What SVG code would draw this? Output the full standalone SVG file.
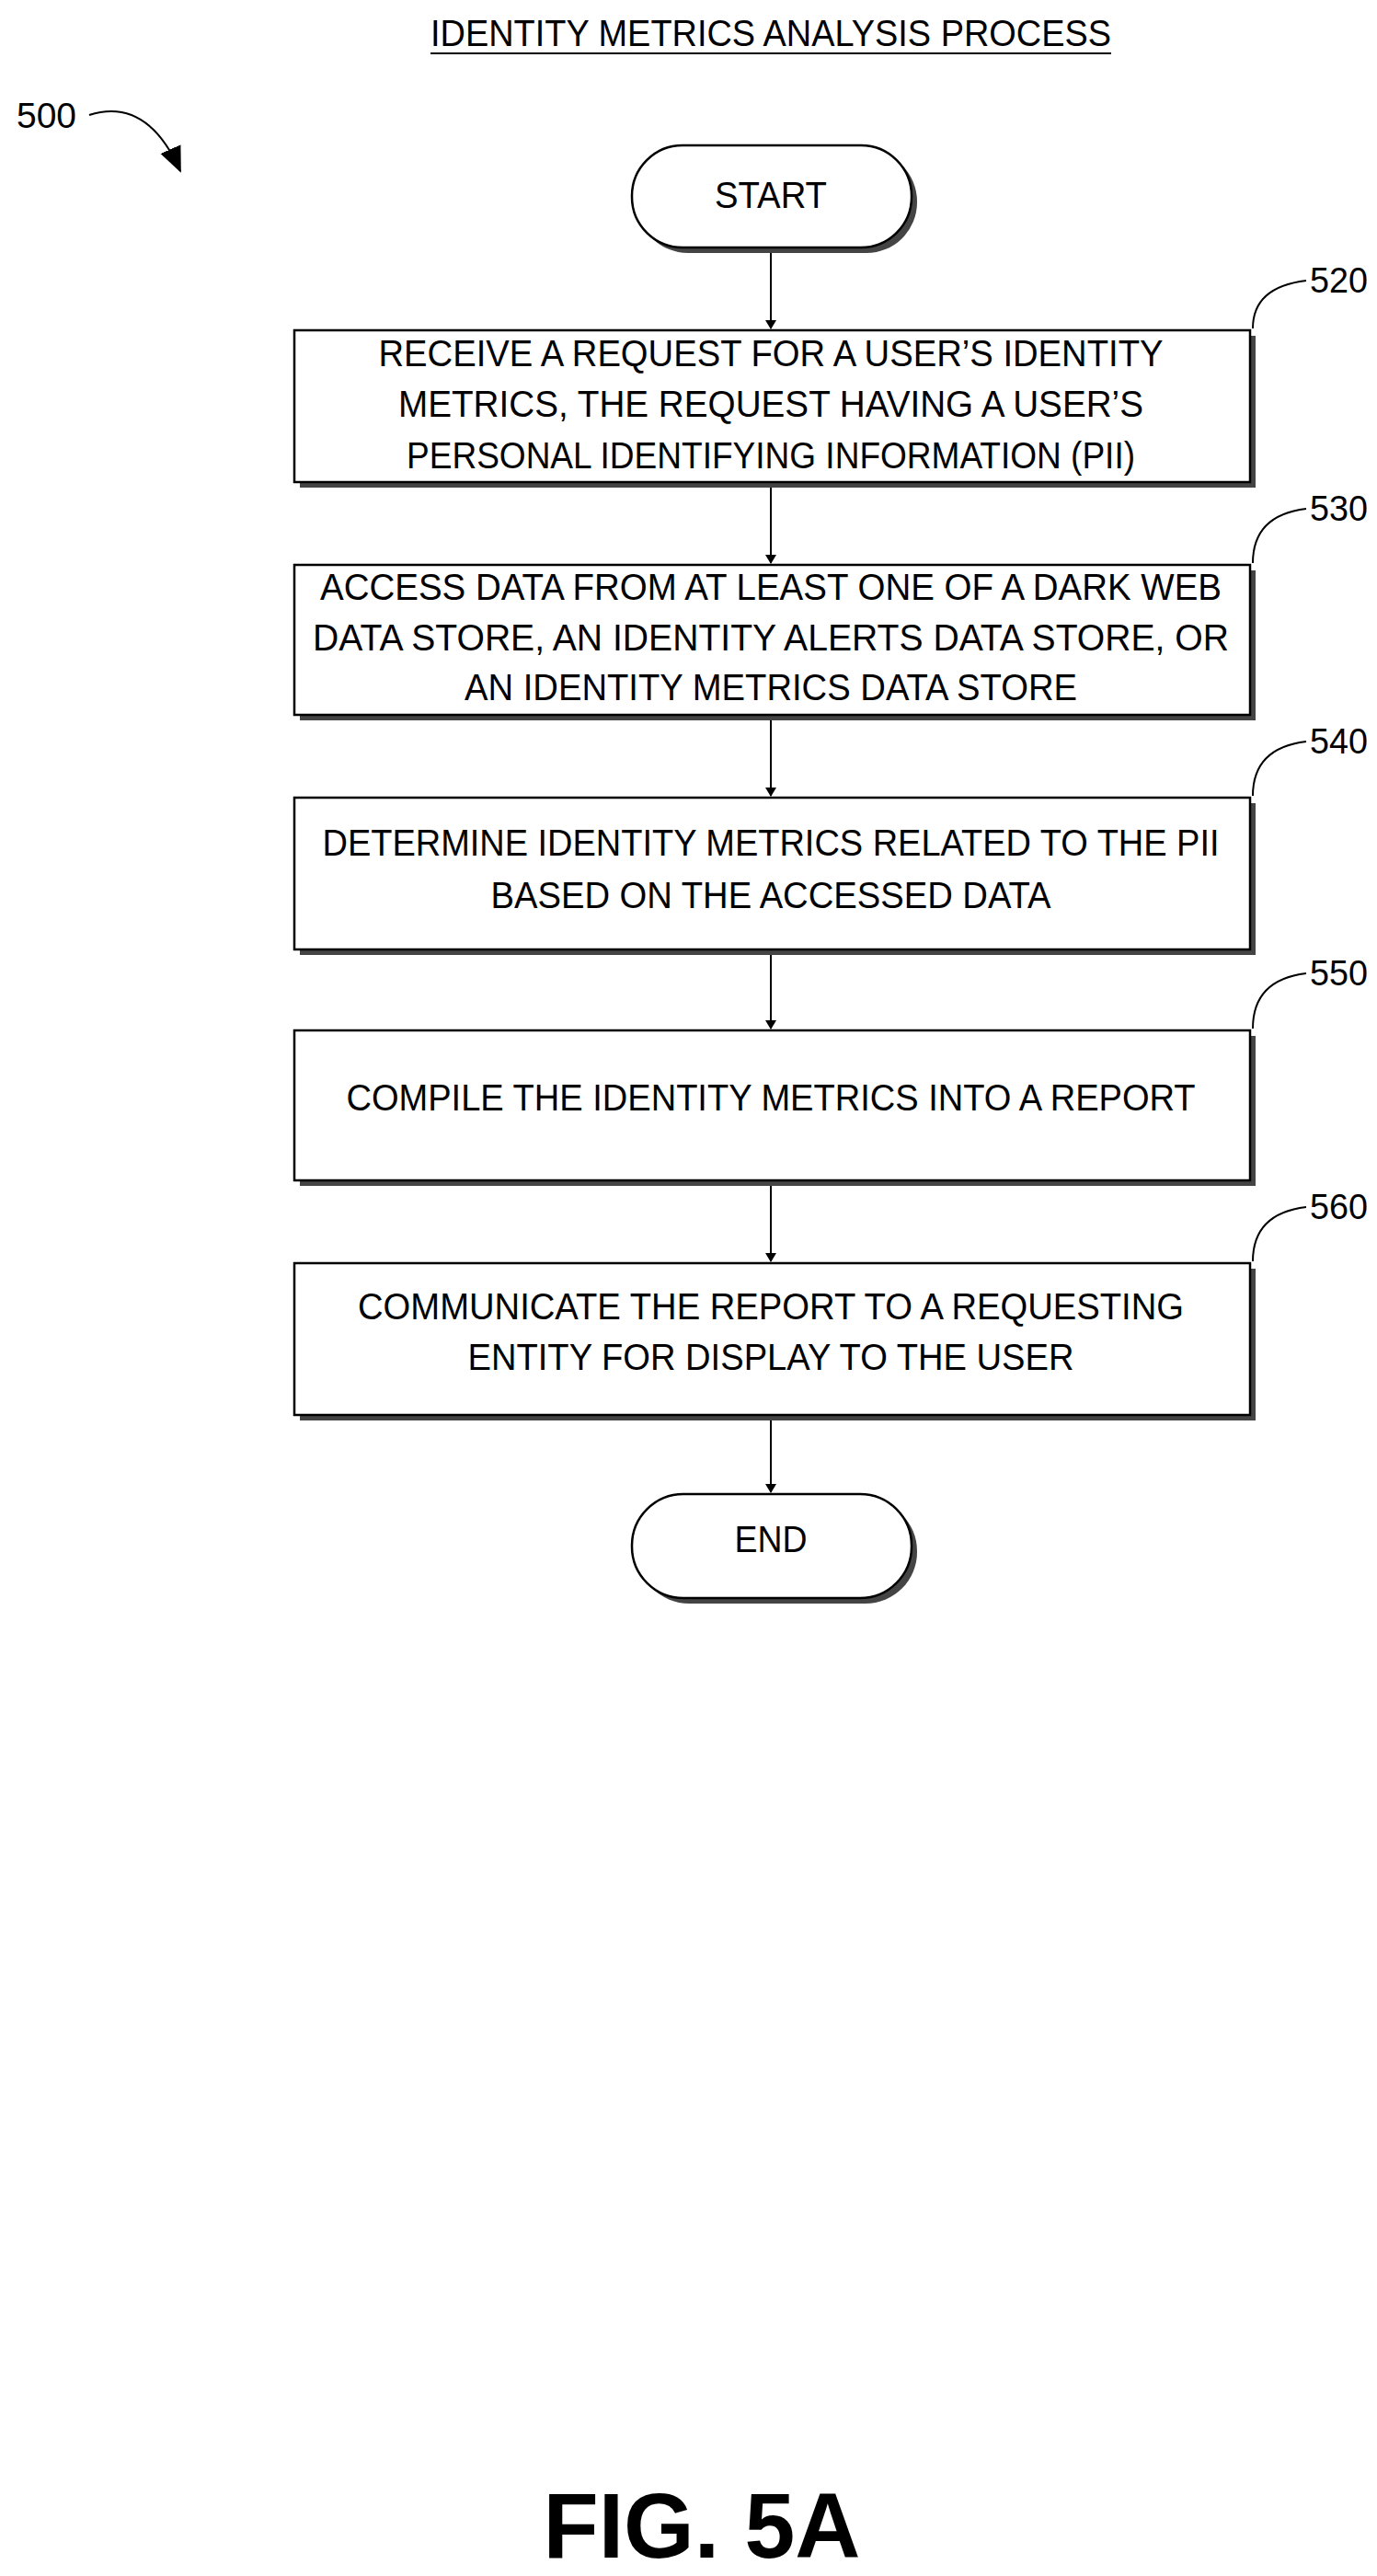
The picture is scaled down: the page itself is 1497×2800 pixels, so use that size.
<svg xmlns="http://www.w3.org/2000/svg" width="1497" height="2800" viewBox="0 0 1497 2800">
<style>
text{font-family:"Liberation Sans",Arial,sans-serif;fill:#000}
.t{font-size:40px;text-anchor:middle}
.r{font-size:38px}
.box{fill:#fff;stroke:#000;stroke-width:2.5}
.sh{fill:#444}
.ln{fill:none;stroke:#000;stroke-width:2}
</style>
<defs><marker id="ah" markerWidth="10" markerHeight="12" refX="9" refY="6" orient="auto" markerUnits="userSpaceOnUse" viewBox="0 0 10 12"><path d="M0,0L10,6L0,12Z" fill="#000"/></marker>
<marker id="ah2" markerWidth="30" markerHeight="30" refX="26" refY="15" orient="auto" markerUnits="userSpaceOnUse"><path d="M0,3L28,15L0,27Z" fill="#000"/></marker></defs>
<rect width="1497" height="2800" fill="#fff"/>
<text class="t" x="838" y="50" textLength="740" lengthAdjust="spacingAndGlyphs">IDENTITY METRICS ANALYSIS PROCESS</text>
<line x1="468" y1="58" x2="1208" y2="58" stroke="#000" stroke-width="2"/>
<g id="ref500"><text class="r" x="18" y="139" textLength="65" lengthAdjust="spacingAndGlyphs">500</text>
<path class="ln" d="M97,125 Q160,105 196,186" marker-end="url(#ah2)"/></g>
<g id="connectors">
<line class="ln" x1="838" y1="270" x2="838" y2="357" marker-end="url(#ah)"/>
<line class="ln" x1="838" y1="527" x2="838" y2="612" marker-end="url(#ah)"/>
<line class="ln" x1="838" y1="780" x2="838" y2="865" marker-end="url(#ah)"/>
<line class="ln" x1="838" y1="1035" x2="838" y2="1118" marker-end="url(#ah)"/>
<line class="ln" x1="838" y1="1286" x2="838" y2="1371" marker-end="url(#ah)"/>
<line class="ln" x1="838" y1="1541" x2="838" y2="1622" marker-end="url(#ah)"/>
</g>
<g id="start"><rect class="sh" x="693" y="164" width="304" height="111" rx="55"/><rect class="box" x="687" y="158" width="304" height="111" rx="55"/>
<text class="t" x="838" y="226" textLength="122" lengthAdjust="spacingAndGlyphs">START</text></g>
<g id="n520"><rect class="sh" x="326" y="365" width="1039" height="165"/><rect class="box" x="320" y="359" width="1039" height="165"/>
<text class="t" x="838" y="398" textLength="853" lengthAdjust="spacingAndGlyphs">RECEIVE A REQUEST FOR A USER’S IDENTITY</text>
<text class="t" x="838" y="453" textLength="810" lengthAdjust="spacingAndGlyphs">METRICS, THE REQUEST HAVING  A USER’S</text>
<text class="t" x="838" y="509" textLength="792" lengthAdjust="spacingAndGlyphs">PERSONAL IDENTIFYING INFORMATION (PII)</text>
<path class="ln" d="M1362,357 Q1362,312 1420,305"/><text class="r" x="1424" y="318" textLength="63" lengthAdjust="spacingAndGlyphs">520</text></g>
<g id="n530"><rect class="sh" x="326" y="620" width="1039" height="163"/><rect class="box" x="320" y="614" width="1039" height="163"/>
<text class="t" x="838" y="652" textLength="980" lengthAdjust="spacingAndGlyphs">ACCESS DATA FROM AT LEAST ONE OF A DARK WEB</text>
<text class="t" x="838" y="707" textLength="996" lengthAdjust="spacingAndGlyphs">DATA STORE,  AN IDENTITY ALERTS DATA STORE, OR</text>
<text class="t" x="838" y="761" textLength="666" lengthAdjust="spacingAndGlyphs">AN IDENTITY METRICS DATA STORE</text>
<path class="ln" d="M1362,612 Q1362,560 1420,553"/><text class="r" x="1424" y="566" textLength="63" lengthAdjust="spacingAndGlyphs">530</text></g>
<g id="n540"><rect class="sh" x="326" y="873" width="1039" height="165"/><rect class="box" x="320" y="867" width="1039" height="165"/>
<text class="t" x="838" y="930" textLength="975" lengthAdjust="spacingAndGlyphs">DETERMINE IDENTITY METRICS RELATED TO THE PII</text>
<text class="t" x="838" y="987" textLength="609" lengthAdjust="spacingAndGlyphs">BASED ON THE ACCESSED DATA</text>
<path class="ln" d="M1362,865 Q1362,813 1420,806"/><text class="r" x="1424" y="819" textLength="63" lengthAdjust="spacingAndGlyphs">540</text></g>
<g id="n550"><rect class="sh" x="326" y="1126" width="1039" height="163"/><rect class="box" x="320" y="1120" width="1039" height="163"/>
<text class="t" x="838" y="1207" textLength="923" lengthAdjust="spacingAndGlyphs">COMPILE THE IDENTITY METRICS INTO A REPORT</text>
<path class="ln" d="M1362,1118 Q1362,1065 1420,1058"/><text class="r" x="1424" y="1071" textLength="63" lengthAdjust="spacingAndGlyphs">550</text></g>
<g id="n560"><rect class="sh" x="326" y="1379" width="1039" height="165"/><rect class="box" x="320" y="1373" width="1039" height="165"/>
<text class="t" x="838" y="1434" textLength="898" lengthAdjust="spacingAndGlyphs">COMMUNICATE THE REPORT TO A REQUESTING</text>
<text class="t" x="838" y="1489" textLength="659" lengthAdjust="spacingAndGlyphs">ENTITY FOR DISPLAY TO THE USER</text>
<path class="ln" d="M1362,1371 Q1362,1319 1420,1312"/><text class="r" x="1424" y="1325" textLength="63" lengthAdjust="spacingAndGlyphs">560</text></g>
<g id="end"><rect class="sh" x="693" y="1630" width="304" height="113" rx="56"/><rect class="box" x="687" y="1624" width="304" height="113" rx="56"/>
<text class="t" x="838" y="1687" textLength="79" lengthAdjust="spacingAndGlyphs">END</text></g>
<text x="763" y="2780" font-size="100" font-weight="bold" text-anchor="middle" textLength="345" lengthAdjust="spacingAndGlyphs">FIG. 5A</text>
</svg>
